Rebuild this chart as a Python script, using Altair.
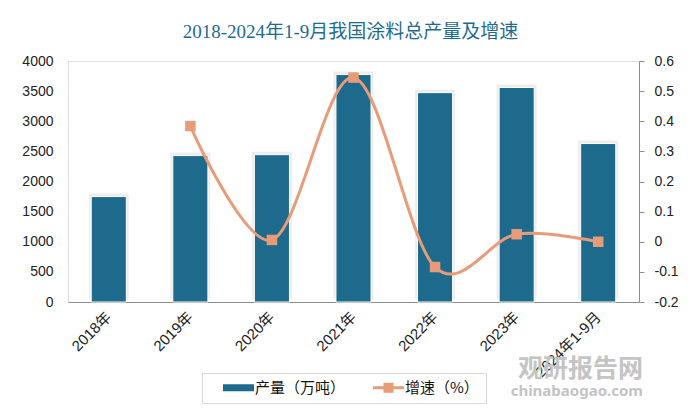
import altair as alt
import pandas as pd

years = ["2018年", "2019年", "2020年", "2021年", "2022年", "2023年", "2024年1-9月"]
output = [1750, 2430, 2445, 3775, 3475, 3560, 2630]
growth = [None, 0.384, 0.006, 0.545, -0.084, 0.025, 0.0]
series = ["产量（万吨）", "增速（%）"]

BLUE = "#1d6a8d"
ORANGE = "#e89b79"
SANS = "Liberation Sans, Noto Sans CJK SC"
CJK = "Noto Sans CJK SC"

df = pd.DataFrame({"year": years, "output": output, "growth": growth})

# legend symbols (drawn wider than their layout box of 15px)
path_bar = "M-2.07,-0.47H2.07V0.47H-2.07Z"
path_line = "M-2.07,-0.2H-0.67V-0.67H0.67V-0.2H2.07V0.2H0.67V0.67H-0.67V0.2H-2.07Z"

x_enc = alt.X(
    "year:N", sort=years, title=None,
    scale=alt.Scale(paddingInner=0, paddingOuter=0),
    axis=alt.Axis(labelAngle=-45, labelAlign="right", labelBaseline="middle",
                  labelFont=SANS, labelFontSize=15, labelColor="#222",
                  domainColor="#8c8c8c", domainWidth=1, ticks=False,
                  labelPadding=12),
)
cscale = alt.Scale(domain=series, range=[BLUE, ORANGE])

base = alt.Chart(df)

y_left = alt.Y("output:Q", title=None,
               scale=alt.Scale(domain=[0, 4000]),
               axis=alt.Axis(values=list(range(0, 4001, 500)), format="d", domain=False, ticks=False,
                             grid=False, labelFont=SANS, labelFontSize=14,
                             labelColor="#222", labelPadding=15, orient="left"))

shadow = base.mark_bar(color="#000000", opacity=0.07, width=alt.RelativeBandSize(0.49),
                       yOffset=-3).encode(x=x_enc, y=y_left)
bars = base.mark_bar(color=BLUE, stroke="white", strokeWidth=1,
                     width=alt.RelativeBandSize(0.43)).encode(x=x_enc, y=y_left)
left = alt.layer(shadow, bars)

y_right = alt.Y("growth:Q", title=None,
                scale=alt.Scale(domain=[-0.2, 0.6]),
                axis=alt.Axis(values=[-0.2, -0.1, 0, 0.1, 0.2, 0.3, 0.4, 0.5, 0.6],
                              labelExpr="datum.value == 0 ? '0' : toString(round(datum.value*10)/10)",
                              orient="right", grid=False, domainColor="#8c8c8c",
                              tickColor="#8c8c8c", tickSize=5, labelPadding=10,
                              labelFont=SANS, labelFontSize=14, labelColor="#222"))

line_data = base.transform_filter("isValid(datum.growth)")
line = line_data.mark_line(color=ORANGE, strokeWidth=3, interpolate="cardinal").encode(
    x=x_enc, y=y_right)
pts = line_data.mark_square(size=110, color=ORANGE, opacity=1).encode(x=x_enc, y=y_right)

legend = alt.Legend(orient="none", legendX=134, legendY=312, direction="horizontal",
                    title=None, strokeColor="#d9d9d9", padding=7, symbolSize=225,
                    symbolStrokeWidth=0, labelFont=CJK, labelFontSize=15,
                    labelColor="#111", labelOffset=9, columnPadding=13,
                    symbolOffset=22,
                    labelExpr="datum.label == '增速（%）' ? datum.label + '\u3000 ' : datum.label")
# invisible proxy points (size 0) that only carry the legend
proxy = line_data.transform_calculate(series=f"'{series[1]}'").mark_point(
    filled=True, opacity=1, size=0).encode(
    x=x_enc, y=y_right,
    color=alt.Color("series:N", scale=cscale, legend=legend),
    shape=alt.Shape("series:N", scale=alt.Scale(domain=series, range=[path_bar, path_line]),
                    legend=legend),
)

right = alt.layer(line, pts, proxy)

wm1 = alt.Chart(pd.DataFrame({"t": ["观研报告网"]})).mark_text(
    font=CJK, fontSize=25, fontWeight="bold", color="#c4c4c4", align="right", baseline="middle"
).encode(text="t:N", x=alt.value(575), y=alt.value(308))
wm2 = alt.Chart(pd.DataFrame({"t": ["chinabaogao.com"]})).mark_text(
    font="Noto Sans", fontSize=15, fontWeight="bold", color="#c4c4c4", align="right", baseline="middle"
).encode(text="t:N", x=alt.value(575), y=alt.value(330))

chart = alt.layer(wm1, wm2, left, right).resolve_scale(y="independent").properties(
    width=571, height=241,
    autosize=alt.AutoSizeParams(type="none"),
    padding={"left": 60, "top": 53, "right": 53, "bottom": 110},
    title=alt.TitleParams("2018-2024年1-9月我国涂料总产量及增速", font="Liberation Serif, Noto Sans CJK SC",
                          fontSize=19, fontWeight="normal", color="#1e6b8f", anchor="middle",
                          frame="group", offset=12, dx=-3),
).configure_view(fill="#ececec", stroke=None).configure(background="white")

chart.save("out.html", embed_options={"renderer": "svg", "actions": False})
